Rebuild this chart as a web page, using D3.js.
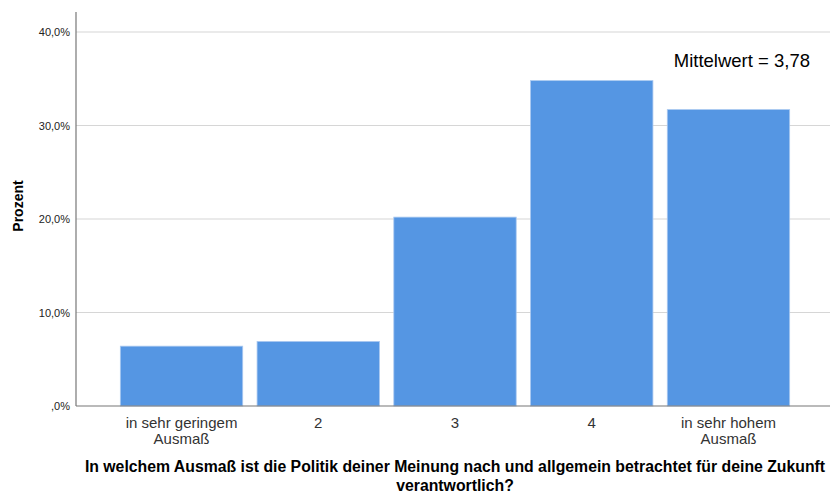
<!DOCTYPE html>
<html>
<head>
<meta charset="utf-8">
<script src="https://cdn.jsdelivr.net/npm/d3@7"></script>
<style>
  body { margin: 0; background: #fff; }
  text { font-family: "Liberation Sans", Arial, sans-serif; }
</style>
</head>
<body>
<svg width="831" height="493"></svg>
<script>
var categories = ["in sehr geringem|Ausmaß", "2", "3", "4", "in sehr hohem|Ausmaß"];
var percents = [6.4, 6.9, 20.2, 34.8, 31.7];
var yTicks = [0, 10, 20, 30, 40];
var meanLabel = "Mittelwert = 3,78";

var svg = d3.select("svg");

var plotLeft = 76, plotRight = 830, plotTop = 12, plotBottom = 406;

var x = d3.scaleBand()
    .domain(categories)
    .range([113.5, 796.5])
    .paddingInner(0.105)
    .paddingOuter(0.05);

var y = d3.scaleLinear()
    .domain([0, 40])
    .range([plotBottom, 32]);

// gridlines
svg.append("g")
  .selectAll("line")
  .data(yTicks.filter(d => d > 0))
  .enter().append("line")
    .attr("x1", plotLeft).attr("x2", plotRight)
    .attr("y1", d => y(d)).attr("y2", d => y(d))
    .attr("stroke", "#d6d6d6")
    .attr("stroke-width", 1.2);

// bars
svg.append("g")
  .selectAll("rect")
  .data(percents)
  .enter().append("rect")
    .attr("x", (d, i) => x(categories[i]))
    .attr("y", d => y(d))
    .attr("width", x.bandwidth())
    .attr("height", d => plotBottom - y(d))
    .attr("fill", "#5596e3")
    .attr("stroke", "#a9c8f0")
    .attr("stroke-width", 0.8);

// y axis
var yAxis = svg.append("g")
    .attr("transform", "translate(" + plotLeft + ",0)")
    .call(d3.axisLeft(y).tickValues(yTicks).tickSize(0).tickPadding(6)
      .tickFormat(d => (d === 0 ? "," : d + ",") + "0%"));
yAxis.select(".domain").remove();
yAxis.selectAll("text")
    .attr("font-size", 11)
    .attr("fill", "#222")
    .attr("font-family", "Liberation Sans, Arial, sans-serif");

svg.append("line")
    .attr("x1", plotLeft).attr("x2", plotLeft)
    .attr("y1", plotTop).attr("y2", plotBottom)
    .attr("stroke", "#777").attr("stroke-width", 1.2);

// x axis
var xAxis = svg.append("g")
    .attr("transform", "translate(0," + plotBottom + ")")
    .call(d3.axisBottom(x).tickSize(0).tickFormat(""));
xAxis.select(".domain").remove();
svg.append("line")
    .attr("x1", plotLeft).attr("x2", plotRight)
    .attr("y1", plotBottom).attr("y2", plotBottom)
    .attr("stroke", "#777").attr("stroke-width", 1.2);

xAxis.selectAll(".tick").each(function(d) {
  var t = d3.select(this).append("text")
      .attr("text-anchor", "middle")
      .attr("font-size", 15)
      .attr("fill", "#333")
      .attr("font-family", "Liberation Sans, Arial, sans-serif");
  d.split("|").forEach(function(line, i) {
    t.append("tspan").attr("x", 0).attr("y", 22 + i * 15.5).text(line);
  });
});

// axis titles
svg.append("text")
    .attr("transform", "translate(23,206) rotate(-90)")
    .attr("text-anchor", "middle")
    .attr("font-size", 14)
    .attr("font-weight", "bold")
    .attr("fill", "#000")
    .text("Prozent");

svg.append("text")
    .attr("x", 455).attr("y", 472)
    .attr("text-anchor", "middle")
    .attr("font-size", 15.8)
    .attr("font-weight", "bold")
    .attr("fill", "#000")
    .text("In welchem Ausmaß ist die Politik deiner Meinung nach und allgemein betrachtet für deine Zukunft");
svg.append("text")
    .attr("x", 455).attr("y", 491)
    .attr("text-anchor", "middle")
    .attr("font-size", 15.8)
    .attr("font-weight", "bold")
    .attr("fill", "#000")
    .text("verantwortlich?");

// mean annotation
svg.append("text")
    .attr("x", 810).attr("y", 67)
    .attr("text-anchor", "end")
    .attr("font-size", 18.5)
    .attr("fill", "#000")
    .text(meanLabel);
</script>
</body>
</html>
